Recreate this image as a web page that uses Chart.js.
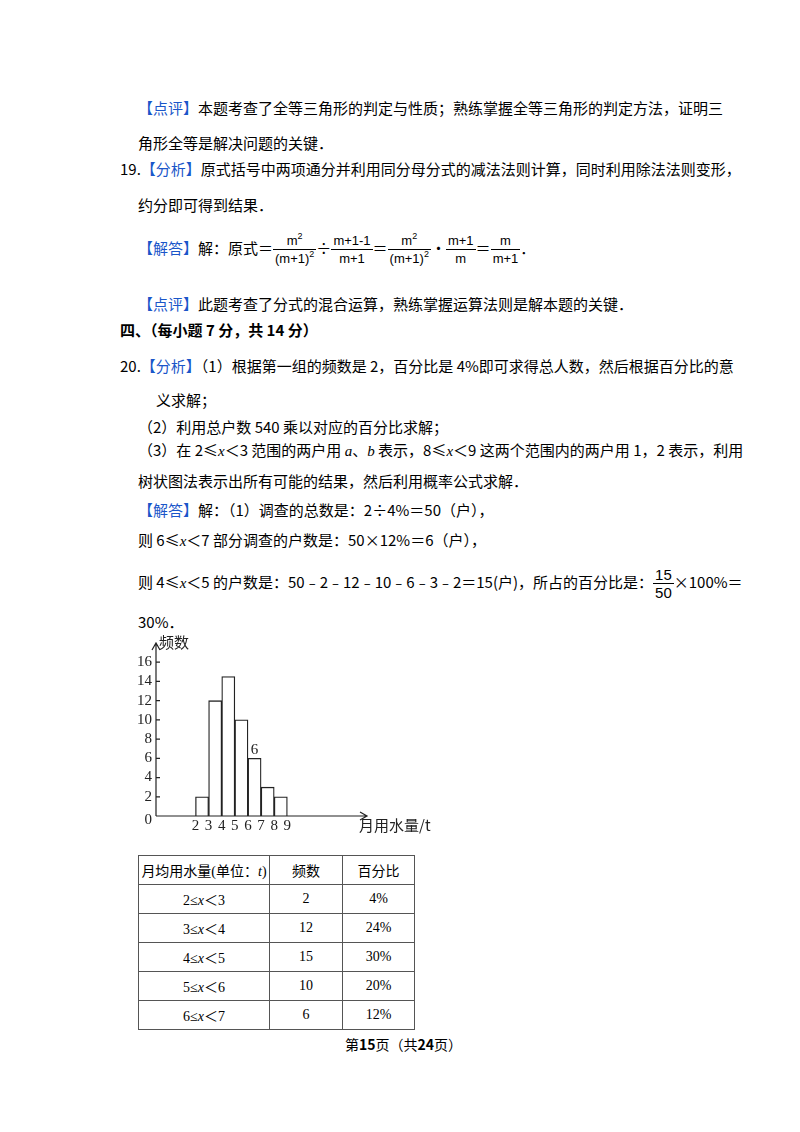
<!DOCTYPE html>
<html><head><meta charset="utf-8">
<script src="https://cdn.jsdelivr.net/npm/chart.js@4"></script>
<style>
body{margin:0;width:800px;height:1132px;background:#fff;font-family:"Noto Sans CJK SC","Liberation Serif",serif;color:#000;position:relative;overflow:hidden}
.l{position:absolute;font-size:15px;white-space:nowrap;line-height:20px}
.b{color:#1a56c9}
i{font-family:"Liberation Serif";}
.fr{display:inline-block;vertical-align:middle;text-align:center;font-family:"Liberation Sans";font-size:13px;line-height:17px}
.fr span{display:block;padding:0 2px;line-height:17px}
.fr span.n{border-bottom:1px solid #000}
sup{font-size:9px;line-height:0;vertical-align:6px}
table{position:absolute;left:138px;top:855px;border-collapse:collapse;font-size:14px;font-family:"Liberation Serif","Noto Sans CJK SC"}
td{border:1px solid #555;height:28px;text-align:center;padding:0}
</style></head><body>
<div class="l" style="left:138px;top:98px"><span class="b">【点评】</span>本题考查了全等三角形的判定与性质；熟练掌握全等三角形的判定方法，证明三</div>
<div class="l" style="left:138px;top:133px">角形全等是解决问题的关键．</div>
<div class="l" style="left:120px;top:159px">19.<span class="b">【分析】</span>原式括号中两项通分并利用同分母分式的减法法则计算，同时利用除法法则变形，</div>
<div class="l" style="left:138px;top:195px">约分即可得到结果．</div>
<div class="l" style="left:138px;top:230px;line-height:36px"><span class="b">【解答】</span>解：原式＝<span class="fr"><span class="n">m<sup>2</sup></span><span>(m+1)<sup>2</sup></span></span>÷<span class="fr"><span class="n">m+1-1</span><span>m+1</span></span>＝<span class="fr"><span class="n">m<sup>2</sup></span><span>(m+1)<sup>2</sup></span></span>•<span class="fr"><span class="n">m+1</span><span>m</span></span>＝<span class="fr"><span class="n">m</span><span>m+1</span></span>．</div>
<div class="l" style="left:138px;top:294px"><span class="b">【点评】</span>此题考查了分式的混合运算，熟练掌握运算法则是解本题的关键．</div>
<div class="l" style="left:120px;top:320px;font-weight:bold">四、（每小题 7 分，共 14 分）</div>
<div class="l" style="left:120px;top:356px">20.<span class="b">【分析】</span>（1）根据第一组的频数是 2，百分比是 4%即可求得总人数，然后根据百分比的意</div>
<div class="l" style="left:156px;top:390px">义求解；</div>
<div class="l" style="left:138px;top:417px">（2）利用总户数 540 乘以对应的百分比求解；</div>
<div class="l" style="left:138px;top:440px">（3）在 2≤<i>x</i>＜3 范围的两户用 <i>a</i>、<i>b</i> 表示，8≤<i>x</i>＜9 这两个范围内的两户用 1，2 表示，利用</div>
<div class="l" style="left:138px;top:471px">树状图法表示出所有可能的结果，然后利用概率公式求解．</div>
<div class="l" style="left:138px;top:500px"><span class="b">【解答】</span>解：（1）调查的总数是：2÷4%＝50（户），</div>
<div class="l" style="left:138px;top:530px">则 6≤<i>x</i>＜7 部分调查的户数是：50×12%＝6（户），</div>
<div class="l" style="left:138px;top:564px;line-height:36px">则 4≤<i>x</i>＜5 的户数是：50﹣2﹣12﹣10﹣6﹣3﹣2＝15(户)，所占的百分比是：<span class="fr" style="font-size:15px"><span class="n">15</span><span>50</span></span>×100%＝</div>
<div class="l" style="left:138px;top:612px">30%．</div>
<div style="position:absolute;left:120px;top:635px;width:320px;height:205px"><canvas id="c"></canvas></div>
<table>
<tr><td style="width:130px">月均用水量(单位：<i>t</i>)</td><td style="width:72px">频数</td><td style="width:71px">百分比</td></tr>
<tr><td>2≤<i>x</i>＜3</td><td>2</td><td>4%</td></tr>
<tr><td>3≤<i>x</i>＜4</td><td>12</td><td>24%</td></tr>
<tr><td>4≤<i>x</i>＜5</td><td>15</td><td>30%</td></tr>
<tr><td>5≤<i>x</i>＜6</td><td>10</td><td>20%</td></tr>
<tr><td>6≤<i>x</i>＜7</td><td>6</td><td>12%</td></tr>
</table>
<div class="l" style="left:345px;top:1034px;font-size:14px">第<b>15</b>页（共<b>24</b>页）</div>
<script>
const binStarts=[2,3,4,5,6,7,8];
const counts=[2,12,14.5,10,6,3,2];
const xTicks=[2,3,4,5,6,7,8,9];
const yTicks=[0,2,4,6,8,10,12,14,16];
const annot={plabel:'6',idx:4};
const deco={id:'deco',afterDraw(ch){const c=ch.ctx,a=ch.chartArea,x=ch.scales.x,y=ch.scales.y;
c.save();c.strokeStyle='#222';c.lineWidth=1.2;c.beginPath();
c.moveTo(a.left,a.bottom);c.lineTo(a.right,a.bottom);c.moveTo(a.right-7,a.bottom-4);c.lineTo(a.right,a.bottom);c.lineTo(a.right-7,a.bottom+4);
c.moveTo(a.left,a.bottom);c.lineTo(a.left,a.top);c.moveTo(a.left-4,a.top+7);c.lineTo(a.left,a.top);c.lineTo(a.left+4,a.top+7);
yTicks.forEach(v=>{if(v>0){c.moveTo(a.left,y.getPixelForValue(v));c.lineTo(a.left+4,y.getPixelForValue(v));}});
c.stroke();c.fillStyle='#222';c.font='15px "Liberation Serif"';
c.textAlign='right';c.textBaseline='middle';
yTicks.forEach(v=>c.fillText(String(v),a.left-4,y.getPixelForValue(v)+(v===0?4:0)));
c.textAlign='center';c.textBaseline='top';
xTicks.forEach(v=>c.fillText(String(v),x.getPixelForValue(v),a.bottom+3));
c.textBaseline='bottom';
c.fillText(annot.plabel,x.getPixelForValue(binStarts[annot.idx]+0.5),y.getPixelForValue(counts[annot.idx])-1);
c.font='15px "Noto Sans CJK SC"';c.textAlign='left';c.textBaseline='top';
c.fillText('频数',a.left+3,a.top-8);
c.fillText('月用水量/t',a.right-8,a.bottom+2);
c.restore();}};
new Chart(document.getElementById('c'),{type:'bar',
data:{datasets:[{data:binStarts.map((s,i)=>({x:s+0.5,y:counts[i]})),backgroundColor:'#fff',borderColor:'#222',borderWidth:1.3,barPercentage:1,categoryPercentage:1}]},
options:{responsive:true,maintainAspectRatio:false,animation:false,
layout:{padding:{top:8,right:73,left:36,bottom:24}},
plugins:{legend:{display:false},tooltip:{enabled:false}},
scales:{x:{type:'linear',display:false,min:1,max:13.06},
y:{display:false,min:0,max:18}}},
plugins:[deco]});
</script>
</body></html>
